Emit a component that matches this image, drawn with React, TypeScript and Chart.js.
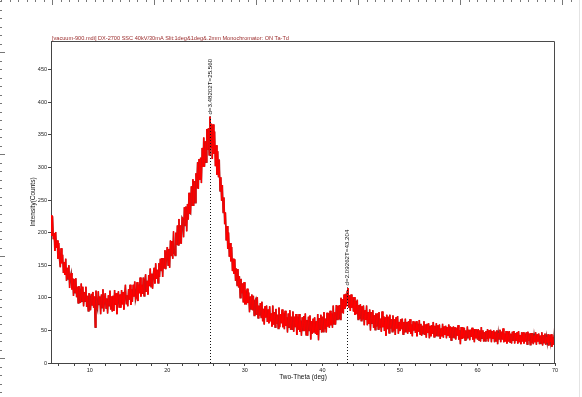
import React, { useEffect, useRef } from "react";
import { Chart, registerables } from "chart.js";

Chart.register(...registerables);

const TITLE = "[vacuum-900.mdi] DX-2700 SSC 40kV/30mA Slit:1deg&1deg&.2mm Monochromator: ON Ta-Td";
const X_TITLE = "Two-Theta (deg)";
const Y_TITLE = "Intensity(Counts)";

const START_2THETA = 5;
const STEP_2THETA = 0.1;

const counts5to20 = [
  227,195,225,190,199,172,201,177,188,160,
  184,159,147,176,153,166,138,155,135,160,
  126,146,129,150,115,133,138,113,130,103,
  129,108,130,101,117,92,118,110,92,122,
  95,117,87,109,95,117,86,103,80,107,
  101,81,106,89,109,85,102,55,111,87,
  82,110,90,102,75,105,85,113,79,98,
  107,84,99,76,104,88,111,82,102,79,
  103,80,112,89,107,75,101,110,85,105,
  85,112,90,109,82,105,120,91,104,87,
  113,97,120,89,113,94,120,102,125,96,
  101,124,95,120,107,131,102,120,106,131,
  103,126,136,109,126,105,135,118,145,117,
  137,114,137,146,122,153,129,143,123,153,
  132,160,142,161,132,161,146,173,144,166,
];
const counts20to35 = [
  178,150,175,146,188,165,187,160,202,170,
  165,200,181,211,181,221,183,211,183,223,
  221,193,239,211,240,202,244,220,261,230,
  229,271,242,282,241,279,246,291,268,308,
  267,313,281,315,276,330,301,346,301,340,
  308,359,327,360,319,378,330,367,313,366,
  321,355,302,334,289,325,285,312,264,285,
  249,273,231,254,213,231,188,210,175,200,
  163,184,156,178,141,160,137,159,126,145,
  119,144,116,133,100,129,107,122,93,124,
  90,111,90,114,92,108,78,102,83,105,
  81,103,73,95,98,74,101,69,88,73,
  92,70,94,64,83,59,87,70,88,63,
  82,61,87,64,76,56,88,59,78,55,
  83,60,74,53,85,55,75,61,82,55,
];
const counts35to50 = [
  77,52,80,57,70,47,76,55,81,51,
  71,52,79,48,71,55,75,43,71,51,
  75,48,65,42,70,50,72,49,76,43,
  66,42,71,50,73,36,64,45,68,47,
  70,45,64,43,75,35,69,52,74,47,
  71,48,78,52,68,47,77,56,76,54,
  80,58,76,54,88,60,78,59,89,67,
  88,67,89,67,100,77,98,76,105,83,
  106,87,110,115,85,104,80,105,85,101,
  79,101,74,95,75,97,67,89,68,90,
  65,87,67,88,58,81,66,88,58,78,
  60,82,50,78,61,81,54,73,51,76,
  56,76,52,78,54,68,48,79,55,72,
  49,70,42,74,52,71,46,74,53,67,
  48,73,50,67,43,70,53,72,45,63,
];
const counts50to70 = [
  49,67,52,68,44,63,47,68,48,63,
  45,64,48,67,45,59,41,64,50,62,
  46,64,41,60,48,66,44,60,42,57,
  45,64,43,59,39,60,46,61,38,57,
  41,58,45,63,40,57,41,61,42,58,
  41,59,37,53,41,60,39,56,43,57,
  38,55,42,59,39,56,35,55,39,56,
  39,55,36,54,42,58,36,50,29,55,
  37,55,38,54,35,50,36,56,39,51,
  35,51,40,54,36,52,32,52,38,51,
  36,52,35,50,33,55,38,50,33,47,
  34,49,37,52,33,50,38,51,32,49,
  37,50,32,48,34,50,29,46,37,51,
  32,48,36,53,32,45,33,49,30,48,
  33,49,32,45,30,48,35,49,30,46,
  34,47,30,49,32,43,29,47,33,47,
  30,45,33,47,29,48,34,45,28,46,
  31,46,29,42,32,47,28,44,33,45,
  29,42,30,47,27,43,31,45,28,40,
  31,44,27,43,32,44,25,40,28,43,
  34,
];

const xTicks = [6,8,10,12,14,16,18,20,22,24,26,28,30,32,34,36,38,40,42,44,46,48,50,52,54,56,58,60,62,64,66,68,70];
const xLabelTicks = [10, 20, 30, 40, 50, 60, 70];
const yTicks = [0, 50, 100, 150, 200, 250, 300, 350, 400, 450];

const peakPositions = [25.56, 43.204];
const peakTops = [378, 116];
const peakLabels = ["d=3.48202T=25.560", "d=2.09262T=43.204"];

const FONT = "Arial, 'Liberation Sans', sans-serif";

const overlayPlugin = {
  id: "overlay",
  beforeDraw(chart: any) {
    const { ctx, width, height } = chart;
    ctx.save();
    ctx.fillStyle = "#ffffff";
    ctx.fillRect(0, 0, width, height);
    ctx.strokeStyle = "#777";
    ctx.lineWidth = 1;
    ctx.beginPath();
    let k = 0;
    for (let px = 1; px < width - 8; px += 8.5, k++) {
      const x = Math.round(px) + 0.5;
      const len = k % 12 === 6 ? 5 : 2;
      ctx.moveTo(x, 0);
      ctx.lineTo(x, len);
    }
    k = 0;
    for (let py = 1; py < height; py += 8.5, k++) {
      const y = Math.round(py) + 0.5;
      const len = k % 12 === 6 ? 5 : 2;
      ctx.moveTo(0, y);
      ctx.lineTo(len, y);
    }
    ctx.stroke();
    ctx.strokeStyle = "#e4e4e4";
    ctx.beginPath();
    ctx.moveTo(579.5, 0);
    ctx.lineTo(579.5, height);
    ctx.stroke();
    ctx.restore();
  },
  afterDatasetsDraw(chart: any) {
    const { ctx, chartArea: a, scales } = chart;
    const xs = scales.x;
    const ys = scales.y;
    ctx.save();
    ctx.strokeStyle = "#4a4a4a";
    ctx.lineWidth = 1;
    ctx.beginPath();
    ctx.moveTo(Math.round(a.left) + 0.5, Math.round(a.top) + 0.5);
    ctx.lineTo(Math.round(a.right) - 0.5, Math.round(a.top) + 0.5);
    ctx.lineTo(Math.round(a.right) - 0.5, Math.round(a.bottom));
    ctx.stroke();
    ctx.fillStyle = "#9a2a2a";
    ctx.font = `5.6px ${FONT}`;
    ctx.textAlign = "left";
    ctx.textBaseline = "alphabetic";
    ctx.fillText(TITLE, a.left + 1, a.top - 1.5);
    for (let i = 0; i < peakPositions.length; i++) {
      const px = Math.round(xs.getPixelForValue(peakPositions[i])) + 0.5;
      const top = ys.getPixelForValue(peakTops[i]);
      ctx.strokeStyle = "#111";
      ctx.setLineDash([1, 2]);
      ctx.beginPath();
      ctx.moveTo(px, a.bottom);
      ctx.lineTo(px, top);
      ctx.stroke();
      ctx.setLineDash([]);
      ctx.save();
      ctx.translate(px, top - 2);
      ctx.rotate(-Math.PI / 2);
      ctx.fillStyle = "#111";
      ctx.font = `6.2px ${FONT}`;
      ctx.textAlign = "left";
      ctx.textBaseline = "middle";
      ctx.fillText(peakLabels[i], 0, 0);
      ctx.restore();
    }
    ctx.restore();
  },
};

export default function App() {
  const ref = useRef<HTMLCanvasElement | null>(null);
  useEffect(() => {
    if (!ref.current) return;
    const counts = [...counts5to20, ...counts20to35, ...counts35to50, ...counts50to70];
    const points = counts.map((c, i) => ({ x: +(START_2THETA + i * STEP_2THETA).toFixed(2), y: c }));
    const chart = new Chart(ref.current, {
      type: "line",
      data: {
        datasets: [
          {
            data: points,
            borderColor: "#ff0000",
            borderWidth: 1,
            pointRadius: 0,
            tension: 0,
            fill: false,
            order: 1,
          },
          {
            data: points,
            borderColor: "#9a2323",
            borderWidth: 1.6,
            pointRadius: 0,
            tension: 0,
            fill: false,
            order: 2,
          },
        ],
      },
      options: {
        animation: false,
        responsive: false,
        devicePixelRatio: 1,
        layout: { padding: { top: 41, right: 27, left: 0, bottom: 0 } },
        plugins: { legend: { display: false }, tooltip: { enabled: false }, title: { display: false } },
        scales: {
          x: {
            type: "linear",
            min: 5,
            max: 70,
            afterBuildTicks: (s: any) => {
              s.ticks = xTicks.map((v) => ({ value: v }));
            },
            afterFit: (s: any) => {
              s.height = 34;
            },
            ticks: {
              autoSkip: false,
              maxRotation: 0,
              padding: 1,
              color: "#222",
              font: { size: 5.5, family: FONT },
              callback: (v: any) => (xLabelTicks.includes(Number(v)) ? String(v) : ""),
            },
            grid: { display: true, drawOnChartArea: false, tickLength: 3, color: "#444" },
            border: { display: true, color: "#444" },
            title: {
              display: true,
              text: X_TITLE,
              color: "#111",
              font: { size: 6.5, family: FONT },
              padding: { top: 0, bottom: 16 },
            },
          },
          y: {
            type: "linear",
            min: 0,
            max: 494,
            afterBuildTicks: (s: any) => {
              s.ticks = yTicks.map((v) => ({ value: v }));
            },
            afterFit: (s: any) => {
              s.width = 51;
            },
            ticks: {
              padding: 1,
              color: "#222",
              font: { size: 5.5, family: FONT },
            },
            grid: { display: true, drawOnChartArea: false, tickLength: 3, color: "#444" },
            border: { display: true, color: "#444" },
            title: {
              display: true,
              text: Y_TITLE,
              color: "#111",
              font: { size: 6.5, family: FONT },
              padding: { top: 29.5, bottom: 0 },
            },
          },
        },
      },
      plugins: [overlayPlugin],
    } as any);
    return () => chart.destroy();
  }, []);
  return (
    <div style={{ position: "fixed", left: 0, top: 0, width: 582, height: 397, background: "#fff" }}>
      <canvas ref={ref} width={582} height={397} style={{ display: "block", width: 582, height: 397 }} />
    </div>
  );
}
